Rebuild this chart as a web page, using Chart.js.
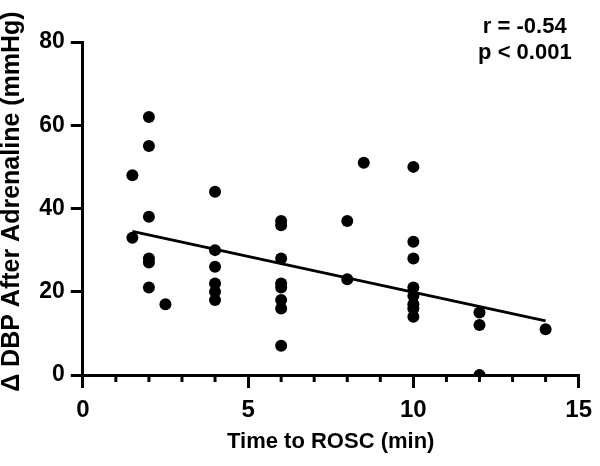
<!DOCTYPE html>
<html>
<head>
<meta charset="utf-8">
<script src="https://cdn.jsdelivr.net/npm/chart.js@4.4.1/dist/chart.umd.min.js"></script>
<style>
    body { margin: 0; background: #ffffff; }
</style>
</head>
<body>
<canvas id="scatterChart" width="600" height="466"></canvas>
<script>
// time to ROSC (min) and change in DBP after adrenaline (mmHg), one entry per patient
const timeToRosc = [
    1.5, 1.5,
    2, 2, 2, 2, 2, 2,
    2.5,
    4, 4, 4, 4, 4, 4,
    6, 6, 6, 6, 6, 6, 6, 6,
    8, 8,
    8.5,
    10, 10, 10, 10, 10, 10, 10, 10,
    12, 12, 12,
    14
];
const dbpChange = [
    48, 33,
    62, 55, 38, 28, 27, 21,
    17,
    44, 30, 26, 22, 20, 18,
    37, 36, 28, 22, 21, 18, 16, 7,
    37, 23,
    51,
    50, 32, 28, 21, 19, 17, 16, 14,
    15, 12, 0,
    11
];

// regression line ends
const fitX = [1.5, 14];
const fitY = [34.5, 13.0];

const xTicks = [0, 5, 10, 15];
const yTicks = [0, 20, 40, 60, 80];
const statLines = ["r = -0.54", "p < 0.001"];

const FONT = "'Liberation Sans', Arial, sans-serif";

// small unlabeled ticks every minute on the x axis
const minorTicks = {
    id: "minorTicks",
    afterDraw(chart) {
        const ctx = chart.ctx;
        const xs = chart.scales.x;
        const y0 = chart.chartArea.bottom;
        ctx.save();
        ctx.strokeStyle = "#000";
        ctx.lineWidth = 3;
        for (let v = xs.min; v <= xs.max; v++) {
            if (xTicks.includes(v)) continue;
            const px = xs.getPixelForValue(v);
            ctx.beginPath();
            ctx.moveTo(px, y0);
            ctx.lineTo(px, y0 + 7);
            ctx.stroke();
        }
        ctx.restore();
    }
};

// r / p annotation, top right
const statsText = {
    id: "statsText",
    afterDraw(chart) {
        const ctx = chart.ctx;
        const right = chart.chartArea.right;
        ctx.save();
        ctx.fillStyle = "#000";
        ctx.font = "bold 22px " + FONT;
        ctx.textAlign = "right";
        ctx.textBaseline = "middle";
        ctx.fillText(statLines[0], right - 12, 27);
        ctx.fillText(statLines[1], right - 7, 53);
        ctx.restore();
    }
};

new Chart(document.getElementById("scatterChart"), {

    type: "scatter",

    data: {
        datasets: [
            {
                label: "Patients",
                data: timeToRosc.map((x, i) => ({ x: x, y: dbpChange[i] })),
                backgroundColor: "#000",
                borderWidth: 0,
                pointRadius: 6
            },
            {
                type: "line",
                label: "Fit",
                data: fitX.map((x, i) => ({ x: x, y: fitY[i] })),
                borderColor: "#000",
                borderWidth: 3,
                pointRadius: 0,
                fill: false
            }
        ]
    },

    plugins: [minorTicks, statsText],

    options: {
        responsive: false,
        animation: false,
        layout: {
            padding: { top: 42, right: 16, left: 0, bottom: 0 }
        },
        plugins: {
            legend: { display: false },
            tooltip: { enabled: false }
        },
        scales: {
            x: {
                type: "linear",
                min: 0,
                max: 15,
                afterFit: s => { s.height = 91; },
                afterBuildTicks: s => { s.ticks = xTicks.map(v => ({ value: v })); },
                grid: {
                    drawOnChartArea: false,
                    color: "#000",
                    lineWidth: 3,
                    tickLength: 13
                },
                border: { color: "#000", width: 3 },
                ticks: {
                    color: "#000",
                    padding: 8,
                    maxRotation: 0,
                    font: { family: FONT, size: 24, weight: "bold" }
                },
                title: {
                    display: true,
                    text: "Time to ROSC (min)",
                    color: "#000",
                    padding: { top: 0, bottom: 11 },
                    font: { family: FONT, size: 22, weight: "bold" }
                }
            },
            y: {
                min: 0,
                max: 80,
                afterFit: s => { s.width = 82.8; },
                afterBuildTicks: s => { s.ticks = yTicks.map(v => ({ value: v })); },
                grid: {
                    drawOnChartArea: false,
                    color: "#000",
                    lineWidth: 3,
                    tickLength: 12
                },
                border: { color: "#000", width: 3 },
                ticks: {
                    color: "#000",
                    padding: 6,
                    font: { family: FONT, size: 23, weight: "bold" }
                },
                title: {
                    display: true,
                    text: "  Δ DBP After Adrenaline (mmHg)",
                    color: "#000",
                    padding: { top: 0, bottom: 0 },
                    font: { family: FONT, size: 25, weight: "bold", lineHeight: 1.0 }
                }
            }
        }
    }

});
</script>
</body>
</html>
